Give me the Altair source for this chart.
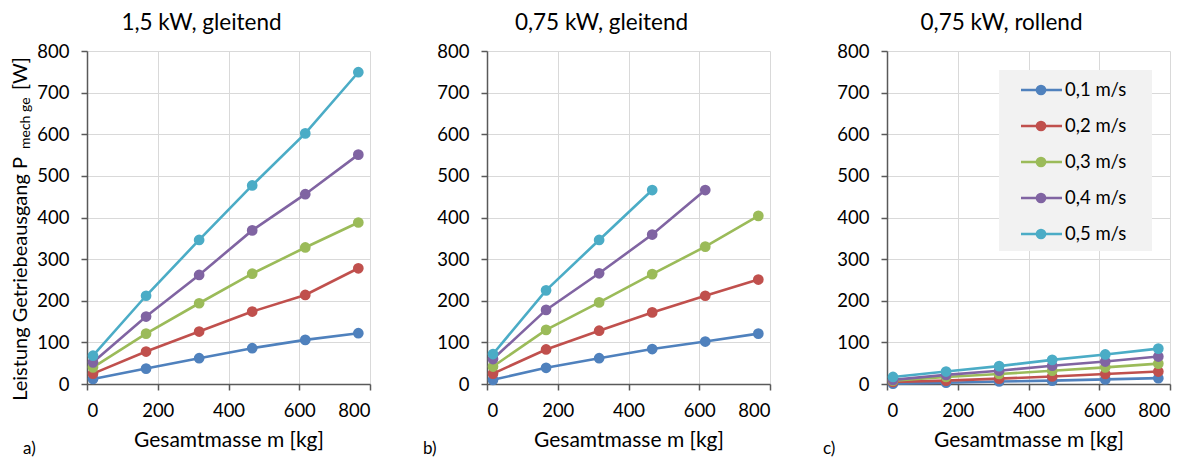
import altair as alt
import pandas as pd

# ---------------- data ----------------
masses = [17, 167, 317, 467, 617, 767]
speeds = ["0,1 m/s", "0,2 m/s", "0,3 m/s", "0,4 m/s", "0,5 m/s"]
colors = ["#4F81BD", "#C0504D", "#9BBB59", "#8064A2", "#4BACC6"]

# a) 1,5 kW, gleitend
a_01 = [12, 37, 62, 86, 106, 122]
a_02 = [25, 78, 126, 174, 214, 278]
a_03 = [40, 121, 194, 265, 328, 388]
a_04 = [52, 162, 262, 369, 456, 551]
a_05 = [68, 212, 346, 477, 602, 749]

# b) 0,75 kW, gleitend
b_01 = [10, 39, 62, 84, 102, 121]
b_02 = [25, 83, 128, 172, 212, 251]
b_03 = [42, 130, 196, 264, 330, 404]
b_04 = [60, 178, 266, 359, 466]
b_05 = [72, 225, 346, 466]

# c) 0,75 kW, rollend
c_01 = [1, 3, 6, 8, 11, 14]
c_02 = [5, 8, 13, 18, 24, 30]
c_03 = [8, 17, 24, 32, 40, 49]
c_04 = [10, 22, 32, 44, 54, 66]
c_05 = [17, 30, 43, 58, 71, 85]

titles = ["1,5 kW, gleitend", "0,75 kW, gleitend", "0,75 kW, rollend"]
letters = ["a)", "b)", "c)"]
x_title = "Gesamtmasse m [kg]"
y_title_main = "Leistung Getriebeausgang P"
y_title_sub = "mech ge"
y_title_unit = "[W]"
x_ticks = [0, 200, 400, 600, 800]
y_ticks = [0, 100, 200, 300, 400, 500, 600, 700, 800]

FONT = "Lato"
W, H = 283, 333
LBL = 18.5


def frame(series):
    rows = []
    for sp, vals in zip(speeds, series):
        for m, v in zip(masses, vals):
            rows.append({"m": m, "p": v, "speed": sp})
    return pd.DataFrame(rows)


dfs = [
    frame([a_01, a_02, a_03, a_04, a_05]),
    frame([b_01, b_02, b_03, b_04, b_05]),
    frame([c_01, c_02, c_03, c_04, c_05]),
]


def legend_layer(sc):
    ldf = pd.DataFrame({"speed": speeds})
    ly = alt.Y("speed:N", scale=alt.Scale(domain=speeds, range=[21, 201]), axis=None)
    lc = alt.Color("speed:N", scale=sc, legend=None)
    base = alt.Chart(ldf)
    rule = base.mark_rule(strokeWidth=2.6).encode(
        x=alt.value(134), x2=alt.value(175), y=ly, color=lc)
    dot = base.mark_circle(size=115, opacity=1).encode(
        x=alt.value(154), y=ly, color=lc)
    txt = base.mark_text(font=FONT, fontSize=LBL, align="left", baseline="middle",
                         color="#000000").encode(
        x=alt.value(178), y=ly, text="speed:N")
    return alt.layer(rule, dot, txt)


def panel(i):
    df = dfs[i]
    xenc = alt.X("m:Q", scale=alt.Scale(domain=[0, 800]),
                 axis=alt.Axis(values=x_ticks, title=x_title, format="d", labelPadding=11))
    yenc = alt.Y("p:Q", scale=alt.Scale(domain=[0, 800]),
                 axis=alt.Axis(values=y_ticks, title=None, format="d", labelPadding=12))
    sc = alt.Scale(domain=speeds, range=colors)
    line = alt.Chart(df).mark_line(strokeWidth=2.6).encode(
        x=xenc, y=yenc,
        color=alt.Color("speed:N", scale=sc, legend=None),
        order="m:Q",
    )
    pts = alt.Chart(df).mark_circle(size=115, opacity=1).encode(
        x=xenc, y=yenc,
        color=alt.Color("speed:N", scale=sc, legend=None),
    )
    lab = alt.Chart(pd.DataFrame({"t": [letters[i]]})).mark_text(
        font=FONT, fontSize=17, align="left", baseline="alphabetic", color="#000000"
    ).encode(text="t:N", x=alt.value(-64), y=alt.value(H + 70))
    layers = []
    if i == 2:
        box = alt.Chart(pd.DataFrame({"t": [0]})).mark_rect(color="#F2F2F2").encode(
            x=alt.value(112), x2=alt.value(265), y=alt.value(19), y2=alt.value(200)
        )
        layers.append(box)
    layers += [line, pts, lab]
    if i == 0:
        t1 = alt.Chart(pd.DataFrame({"t": [y_title_main]})).mark_text(
            font=FONT, fontSize=20, angle=270, align="right", baseline="alphabetic",
            color="#000000").encode(text="t:N", x=alt.value(-60), y=alt.value(106))
        t2 = alt.Chart(pd.DataFrame({"t": [y_title_sub]})).mark_text(
            font=FONT, fontSize=14, angle=270, align="left", baseline="alphabetic",
            color="#000000").encode(text="t:N", x=alt.value(-57), y=alt.value(98))
        t3 = alt.Chart(pd.DataFrame({"t": [y_title_unit]})).mark_text(
            font=FONT, fontSize=20, angle=270, align="left", baseline="alphabetic",
            color="#000000").encode(text="t:N", x=alt.value(-60), y=alt.value(39))
        layers += [t1, t2, t3]
    props = dict(
        width=W, height=H,
        title=alt.TitleParams(titles[i], font=FONT, fontSize=22.5, fontWeight="normal",
                              color="#000000", anchor="middle", dx=-27, offset=8),
    )
    inner = alt.layer(*layers)
    if i == 2:
        return alt.layer(inner, legend_layer(sc)).resolve_scale(
            y="independent").properties(**props)
    return inner.properties(**props)


chart = alt.hconcat(panel(0), panel(1), panel(2), spacing=117, bounds="flush").resolve_scale(
    color="independent"
).configure_view(stroke=None).configure_axis(
    labelFont=FONT, labelFontSize=LBL, labelColor="#000000",
    titleFont=FONT, titleFontSize=21, titleFontWeight="normal", titleColor="#000000",
    gridColor="#D9D9D9", gridWidth=1,
    domainColor="#595959", domainWidth=1.5,
    tickColor="#595959", tickWidth=1.5, tickSize=6,
    titlePadding=10,
).properties(padding={"left": 2, "top": 3, "right": 5, "bottom": 0})

chart.save("out.html", embed_options={"renderer": "svg", "actions": False})
